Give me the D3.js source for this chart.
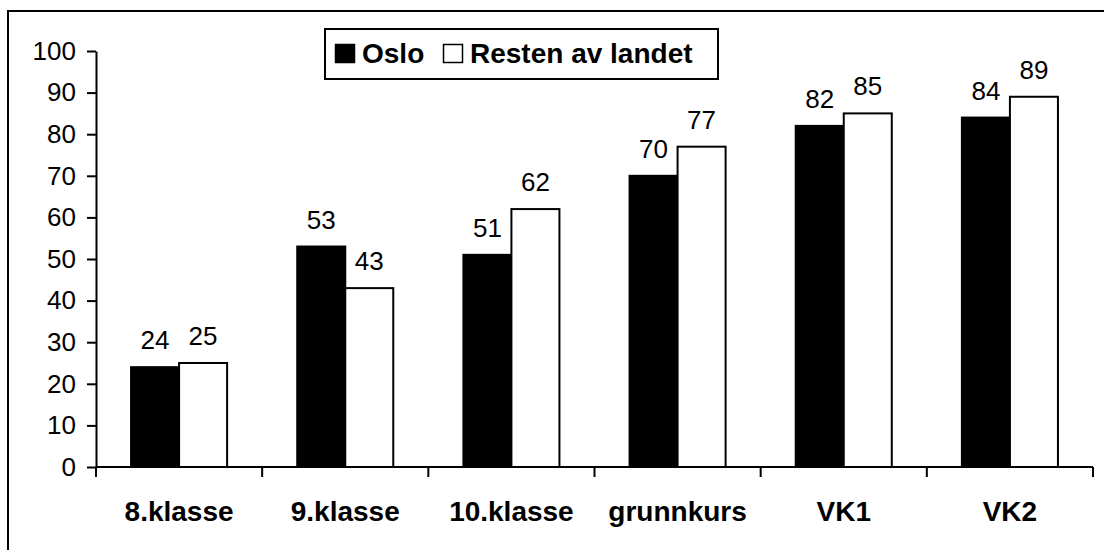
<!DOCTYPE html>
<html>
<head>
<meta charset="utf-8">
<script src="https://cdn.jsdelivr.net/npm/d3@7"></script>
<style>
  body { margin: 0; background: #fff; }
  svg text { font-family: "Liberation Sans", Arial, Helvetica, sans-serif; fill: #000; }
</style>
</head>
<body>
<svg id="chart" width="1104" height="550"></svg>
<script>
"use strict";

var categories = ["8.klasse", "9.klasse", "10.klasse", "grunnkurs", "VK1", "VK2"];
var seriesNames = ["Oslo", "Resten av landet"];
var osloValues = [24, 53, 51, 70, 82, 84];
var restValues = [25, 43, 62, 77, 85, 89];
var yTicks = [0, 10, 20, 30, 40, 50, 60, 70, 80, 90, 100];

var seriesFill = ["#000", "#fff"];

var config = {
  frame: { l: 96, r: 1093, t: 51, b: 467 },
  numberFont: "26px",
  labelFont: "28px",
  legendFont: "28px"
};

var svg = d3.select("#chart");

// outer border (runs off the right and bottom of the picture)
svg.append("rect")
  .attr("x", 8)
  .attr("y", 11)
  .attr("width", 1200)
  .attr("height", 600)
  .attr("fill", "#fff")
  .attr("stroke", "#000")
  .attr("stroke-width", 2);

var rows = categories.map(function(c, i) {
  return { cat: c, values: [osloValues[i], restValues[i]] };
});

var x0 = d3.scaleBand()
  .domain(categories)
  .range([config.frame.l, config.frame.r])
  .paddingInner(0.422)
  .paddingOuter(0.211);

var x1 = d3.scaleBand()
  .domain(d3.range(seriesNames.length))
  .range([0, x0.bandwidth()]);

var y = d3.scaleLinear()
  .domain([0, 100])
  .range([config.frame.b, config.frame.t]);

// bars
var groups = svg.append("g").selectAll("g")
  .data(rows)
  .join("g")
  .attr("transform", function(d) { return "translate(" + x0(d.cat) + ",0)"; });

groups.selectAll("rect")
  .data(function(d) { return d.values.map(function(v, j) { return { v: v, j: j }; }); })
  .join("rect")
  .attr("x", function(d) { return x1(d.j); })
  .attr("y", function(d) { return y(d.v); })
  .attr("width", x1.bandwidth())
  .attr("height", function(d) { return y(0) - y(d.v); })
  .attr("fill", function(d) { return seriesFill[d.j]; })
  .attr("stroke", "#000")
  .attr("stroke-width", 2);

groups.selectAll("text")
  .data(function(d) { return d.values.map(function(v, j) { return { v: v, j: j }; }); })
  .join("text")
  .attr("x", function(d) { return x1(d.j) + x1.bandwidth() / 2; })
  .attr("y", function(d) { return y(d.v) - 18; })
  .attr("text-anchor", "middle")
  .style("font-size", config.numberFont)
  .text(function(d) { return d.v; });

// y axis
var yAxis = d3.axisLeft(y)
  .tickValues(yTicks)
  .tickSize(9)
  .tickPadding(11)
  .tickSizeOuter(0);

var yG = svg.append("g")
  .attr("transform", "translate(" + config.frame.l + ",0)")
  .call(yAxis);
yG.select(".domain").attr("stroke", "#000").attr("stroke-width", 2);
yG.selectAll(".tick line").attr("stroke", "#000").attr("stroke-width", 2);
yG.selectAll(".tick text")
  .style("font-size", config.numberFont)
  .style("font-family", "'Liberation Sans', Arial, sans-serif")
  .attr("fill", "#000");

// x axis with ticks between categories
var tickIdx = d3.scaleLinear()
  .domain([0, categories.length])
  .range([config.frame.l, config.frame.r]);

var xG = svg.append("g");
xG.append("line")
  .attr("x1", config.frame.l)
  .attr("x2", config.frame.r)
  .attr("y1", y(0))
  .attr("y2", y(0))
  .attr("stroke", "#000")
  .attr("stroke-width", 2);
xG.selectAll("line.tick")
  .data(d3.range(categories.length + 1))
  .join("line")
  .classed("tick", true)
  .attr("x1", function(i) { return tickIdx(i); })
  .attr("x2", function(i) { return tickIdx(i); })
  .attr("y1", y(0))
  .attr("y2", y(0) + 10)
  .attr("stroke", "#000")
  .attr("stroke-width", 2);
xG.selectAll("text")
  .data(categories)
  .join("text")
  .attr("x", function(d) { return x0(d) + x0.bandwidth() / 2; })
  .attr("y", 521)
  .attr("text-anchor", "middle")
  .style("font-size", config.labelFont)
  .style("font-weight", "bold")
  .text(function(d) { return d; });

// legend
var legend = svg.append("g");
legend.append("rect")
  .attr("x", 325)
  .attr("y", 29)
  .attr("width", 393)
  .attr("height", 50)
  .attr("fill", "#fff")
  .attr("stroke", "#000")
  .attr("stroke-width", 2);

var legendX = [335, 443];
var items = legend.selectAll("g")
  .data(seriesNames)
  .join("g")
  .attr("transform", function(d, i) { return "translate(" + legendX[i] + ",0)"; });
items.append("rect")
  .attr("x", 0.5)
  .attr("y", 44.5)
  .attr("width", 19)
  .attr("height", 18)
  .attr("fill", function(d, i) { return seriesFill[i]; })
  .attr("stroke", "#000")
  .attr("stroke-width", 1.5);
items.append("text")
  .attr("x", 27)
  .attr("y", 63)
  .style("font-size", config.legendFont)
  .style("font-weight", "bold")
  .text(function(d) { return d; });
</script>
</body>
</html>
